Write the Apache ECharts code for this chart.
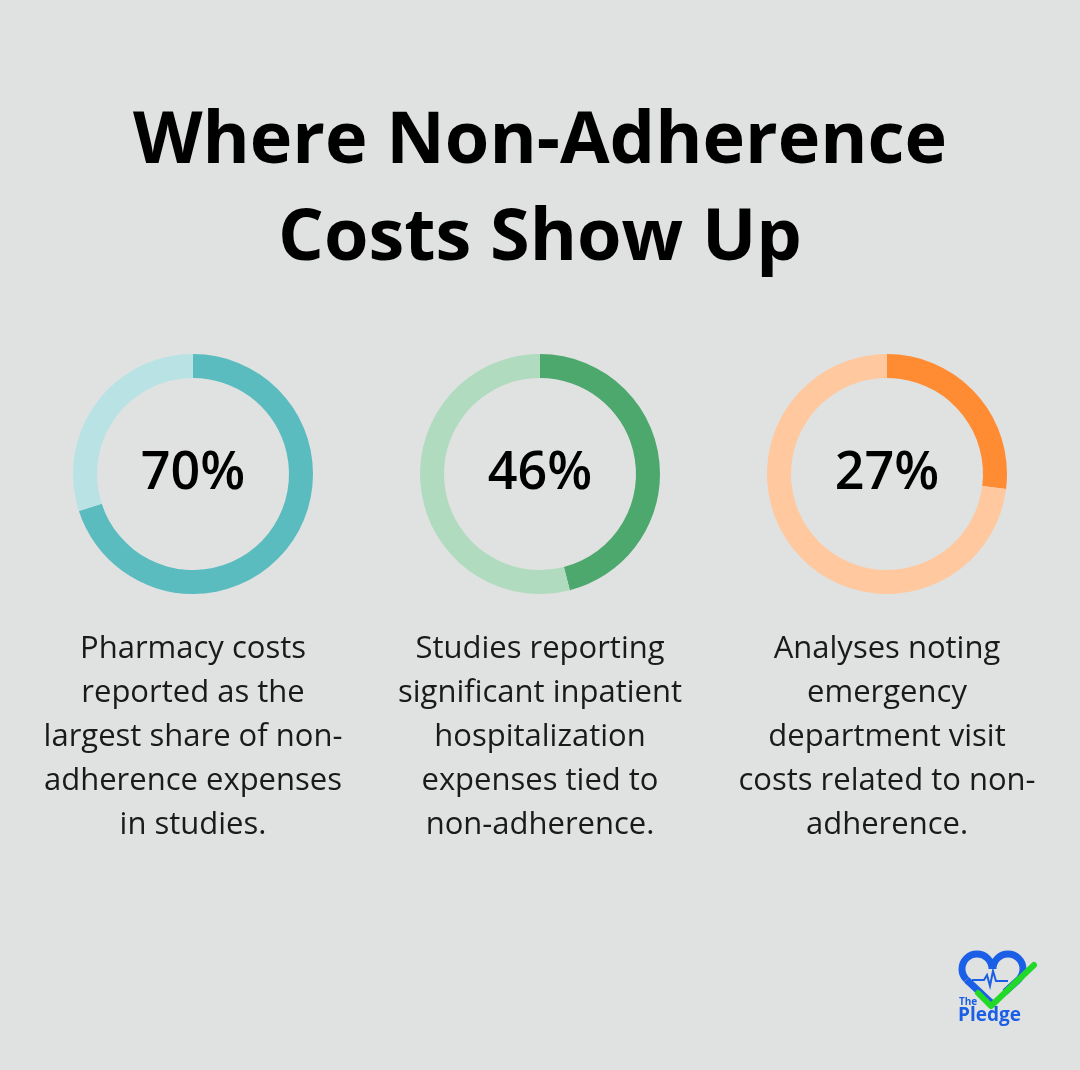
<!DOCTYPE html>
<html><head><meta charset="utf-8">
<script src="https://cdn.jsdelivr.net/npm/echarts@6/dist/echarts.min.js"></script>
<style>html,body{margin:0;padding:0;background:#E0E2E1;}#c{width:1080px;height:1070px;}</style>
</head><body><div id="c"></div>
<script>
const titleLines = ['Where Non-Adherence', 'Costs Show Up'];
const values = [70, 46, 27];
const labels = ['70%', '46%', '27%'];
const descriptions = [
  ['Pharmacy costs', 'reported as the', 'largest share of non-', 'adherence expenses', 'in studies.'],
  ['Studies reporting', 'significant inpatient', 'hospitalization', 'expenses tied to', 'non-adherence.'],
  ['Analyses noting', 'emergency', 'department visit', 'costs related to non-', 'adherence.']
];
const mainColors = ['#5BBCC0', '#4DA86D', '#FF8C33'];
const lightColors = ['#B8E2E4', '#B0DBBE', '#FFC89E'];
const centersX = [193, 540, 887];
const centerY = 474;

const chart = echarts.init(document.getElementById('c'));
const series = values.map((v, i) => ({
  type: 'pie', silent: true, radius: [96, 120], center: [centersX[i], centerY],
  startAngle: 90, clockwise: true, label: {show: false}, labelLine: {show: false},
  itemStyle: {borderWidth: 0},
  data: [{value: v, itemStyle: {color: mainColors[i]}}, {value: 100 - v, itemStyle: {color: lightColors[i]}}]
}));
const graphic = [];
titleLines.forEach((t, i) => graphic.push({type: 'text', x: 540, y: 142 + i * 97, style: {
  text: t, fill: '#000', font: 'bold 72px "Open Sans"', textAlign: 'center', textVerticalAlign: 'middle'}}));
labels.forEach((t, i) => graphic.push({type: 'text', x: centersX[i], y: centerY, style: {
  text: t, fill: '#000', font: '600 52px "Open Sans"', textAlign: 'center', textVerticalAlign: 'middle'}}));
descriptions.forEach((lines, i) => lines.forEach((t, j) => graphic.push({type: 'text', x: centersX[i], y: 649 + j * 44, style: {
  text: t, fill: '#1a1a1a', font: '31px "Open Sans"', textAlign: 'center', textVerticalAlign: 'middle'}})));
// logo
const blue = '#1A5FE6';
graphic.push({type: 'arc', shape: {cx: 977, cy: 969, r: 15, startAngle: Math.PI * 0.75, endAngle: Math.PI * 2, clockwise: true}, style: {fill: null, stroke: blue, lineWidth: 7}});
graphic.push({type: 'arc', shape: {cx: 1008, cy: 969, r: 15, startAngle: Math.PI, endAngle: Math.PI * 2.25, clockwise: true}, style: {fill: null, stroke: blue, lineWidth: 7}});
graphic.push({type: 'line', shape: {x1: 966.4, y1: 979.6, x2: 992.5, y2: 1004}, style: {stroke: blue, lineWidth: 7}});
graphic.push({type: 'line', shape: {x1: 1018.6, y1: 979.6, x2: 1005, y2: 992}, style: {stroke: blue, lineWidth: 7}});
graphic.push({type: 'polyline', shape: {points: [[972,980],[984,980],[987,975],[990,986],[993,971],[996,981],[1008,981]]}, style: {fill: null, stroke: blue, lineWidth: 2}});
graphic.push({type: 'polyline', shape: {points: [[978,993],[991,1006],[1034,965]]}, style: {fill: null, stroke: '#22D92A', lineWidth: 6, lineCap: 'round', lineJoin: 'round'}});
graphic.push({type: 'text', x: 959, y: 1002, style: {text: 'The', fill: blue, font: 'bold 10px "Open Sans"', textVerticalAlign: 'middle'}});
graphic.push({type: 'text', x: 958, y: 1016, style: {text: 'Pledge', fill: blue, font: 'bold 19px "Open Sans"', textVerticalAlign: 'middle'}});

chart.setOption({backgroundColor: '#E0E2E1', animation: false, series, graphic});
</script></body></html>
